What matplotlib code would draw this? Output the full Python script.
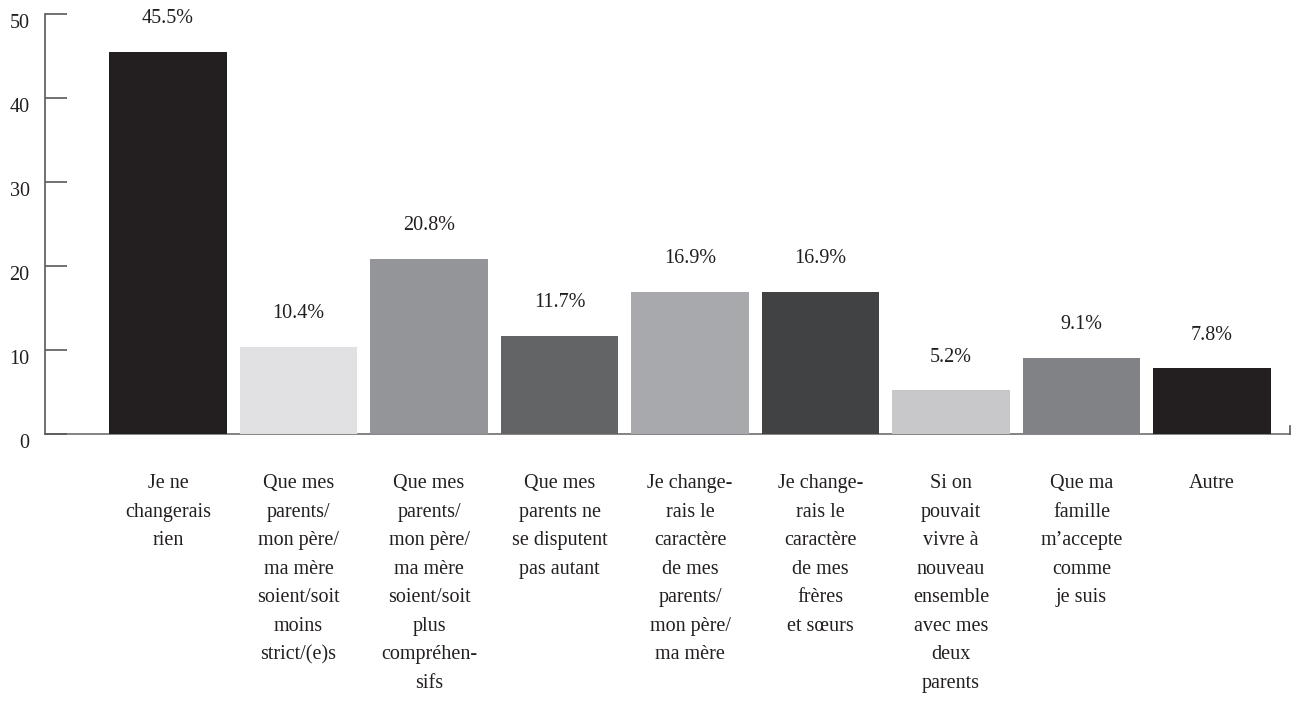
import numpy as np
import matplotlib
matplotlib.use("Agg")
import matplotlib.pyplot as plt
import matplotlib.transforms as mtransforms

categories = [
    "Je ne\nchangerais\nrien",
    "Que mes\nparents/\nmon père/\nma mère\nsoient/soit\nmoins\nstrict/(e)s",
    "Que mes\nparents/\nmon père/\nma mère\nsoient/soit\nplus\ncompréhen-\nsifs",
    "Que mes\nparents ne\nse disputent\npas autant",
    "Je change-\nrais le\ncaractère\nde mes\nparents/\nmon père/\nma mère",
    "Je change-\nrais le\ncaractère\nde mes\nfrères\net sœurs",
    "Si on\npouvait\nvivre à\nnouveau\nensemble\navec mes\ndeux\nparents",
    "Que ma\nfamille\nm’accepte\ncomme\nje suis",
    "Autre",
]
values = [45.5, 10.4, 20.8, 11.7, 16.9, 16.9, 5.2, 9.1, 7.8]
bar_colors = ["#231f20", "#e1e1e3", "#939598", "#636466", "#a7a9ac",
              "#414244", "#c8c8ca", "#808285", "#231f20"]
yticks = [0, 10, 20, 30, 40, 50]

plt.rcParams['font.family'] = ['Liberation Serif', 'DejaVu Serif']
text_color = "#231f20"

fig = plt.figure(figsize=(12.93, 7.04), dpi=100)
ax = fig.add_axes([0.0348, 0.3835, 0.963, 0.5966])

x = np.arange(len(values))
bars = ax.bar(x, values, width=0.9, color=bar_colors)

for xi, v in zip(x, values):
    ax.annotate(f"{v}%", (xi, v), xytext=(0, 24), textcoords="offset points",
                ha="center", va="center", fontsize=14.5, color=text_color)

ax.set_xlim(-0.943, 8.598)
ax.set_ylim(0, 50)

ax.set_yticks(yticks)
ax.set_yticklabels([str(t) for t in yticks], fontsize=14.5, color=text_color)
ax.tick_params(axis="y", direction="in", length=16, width=1.2, color="#58595b", pad=11)
# old-style figures sit a bit lower than the tick
shift = mtransforms.ScaledTranslation(0, -7 / 100, fig.dpi_scale_trans)
for lbl in ax.get_yticklabels():
    lbl.set_transform(lbl.get_transform() + shift)

ax.set_xticks(x)
ax.set_xticklabels(categories, fontsize=14.5, color=text_color, linespacing=1.68,
                   va="top")
ax.tick_params(axis="x", length=0, pad=29)

for s in ["top", "right"]:
    ax.spines[s].set_visible(False)
ax.spines["left"].set_color("#58595b")
ax.spines["left"].set_linewidth(1.2)
ax.spines["bottom"].set_color("#6d6e71")
ax.spines["bottom"].set_linewidth(1.2)
ax.spines["bottom"].set_zorder(0.5)

# small end mark on the right of the baseline
ax.plot([1, 1], [0, 0.02], transform=ax.transAxes, color="#58595b", lw=1.2,
        clip_on=False)

fig.savefig("out.png", dpi=100)
